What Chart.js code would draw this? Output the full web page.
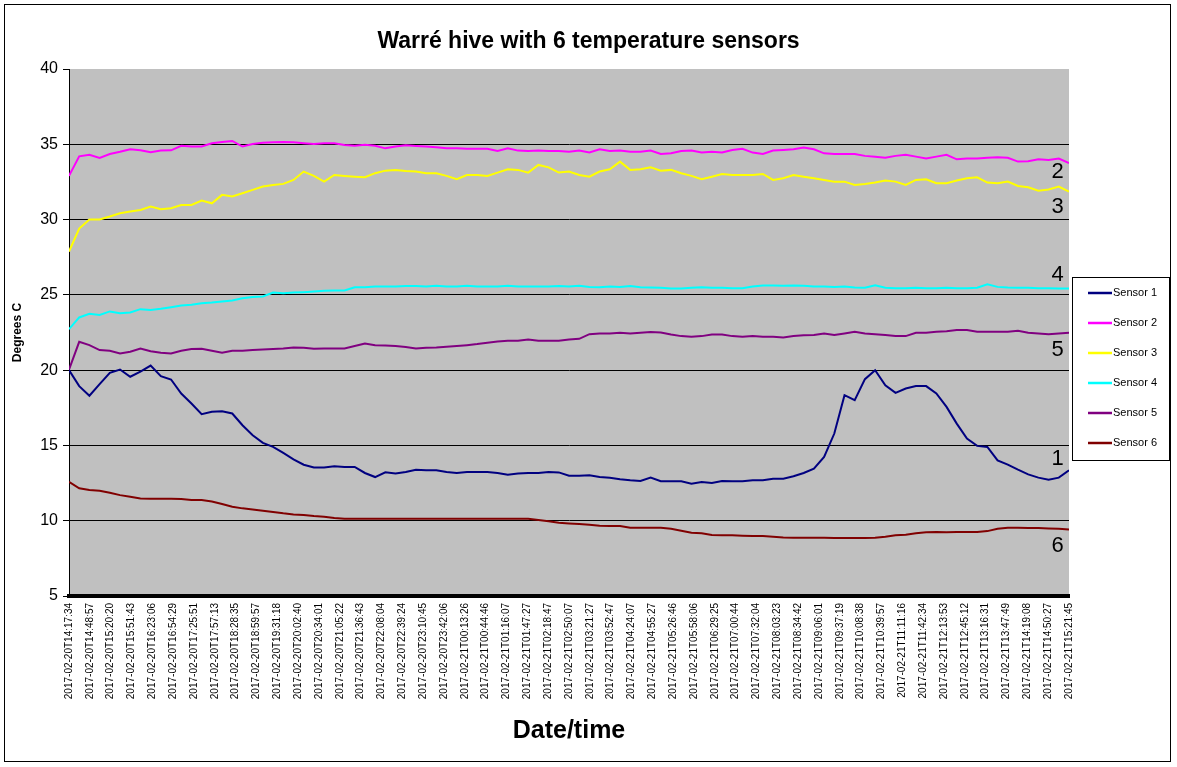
<!DOCTYPE html>
<html>
<head>
<meta charset="utf-8">
<title>Warré hive with 6 temperature sensors</title>
<script src="https://cdn.jsdelivr.net/npm/chart.js@4/dist/chart.umd.min.js"></script>
<style>
  html, body { margin: 0; padding: 0; background: #fff; }
  #chart { display: block; }
</style>
</head>
<body>
<canvas id="chart" width="1177" height="767"></canvas>
<script>
// tick labels on the time axis (every ~31 minutes)
const timeLabels = [
    '2017-02-20T14:17:34', '2017-02-20T14:48:57', '2017-02-20T15:20:20', '2017-02-20T15:51:43',
    '2017-02-20T16:23:06', '2017-02-20T16:54:29', '2017-02-20T17:25:51', '2017-02-20T17:57:13',
    '2017-02-20T18:28:35', '2017-02-20T18:59:57', '2017-02-20T19:31:18', '2017-02-20T20:02:40',
    '2017-02-20T20:34:01', '2017-02-20T21:05:22', '2017-02-20T21:36:43', '2017-02-20T22:08:04',
    '2017-02-20T22:39:24', '2017-02-20T23:10:45', '2017-02-20T23:42:06', '2017-02-21T00:13:26',
    '2017-02-21T00:44:46', '2017-02-21T01:16:07', '2017-02-21T01:47:27', '2017-02-21T02:18:47',
    '2017-02-21T02:50:07', '2017-02-21T03:21:27', '2017-02-21T03:52:47', '2017-02-21T04:24:07',
    '2017-02-21T04:55:27', '2017-02-21T05:26:46', '2017-02-21T05:58:06', '2017-02-21T06:29:25',
    '2017-02-21T07:00:44', '2017-02-21T07:32:04', '2017-02-21T08:03:23', '2017-02-21T08:34:42',
    '2017-02-21T09:06:01', '2017-02-21T09:37:19', '2017-02-21T10:08:38', '2017-02-21T10:39:57',
    '2017-02-21T11:11:16', '2017-02-21T11:42:34', '2017-02-21T12:13:53', '2017-02-21T12:45:12',
    '2017-02-21T13:16:31', '2017-02-21T13:47:49', '2017-02-21T14:19:08', '2017-02-21T14:50:27',
    '2017-02-21T15:21:45'
];

// readings (deg C), evenly spaced over the whole time range
const sensor1 = [
    20.0, 18.94, 18.3, 19.07, 19.82, 20.04, 19.56, 19.9, 20.3, 19.6,
    19.38, 18.45, 17.78, 17.07, 17.23, 17.27, 17.12, 16.34, 15.68, 15.17,
    14.9, 14.5, 14.08, 13.72, 13.53, 13.53, 13.61, 13.57, 13.57, 13.17,
    12.9, 13.21, 13.13, 13.24, 13.39, 13.35, 13.35, 13.24, 13.17, 13.24,
    13.24, 13.24, 13.17, 13.06, 13.13, 13.17, 13.17, 13.24, 13.21, 12.99,
    12.99, 13.02, 12.9, 12.86, 12.75, 12.68, 12.64, 12.86, 12.62, 12.62,
    12.62, 12.46, 12.57, 12.5, 12.64, 12.62, 12.62, 12.68, 12.68, 12.79,
    12.79, 12.95, 13.17, 13.46, 14.24, 15.79, 18.34, 18.0, 19.4, 20.0,
    19.0, 18.49, 18.78, 18.94, 18.94, 18.45, 17.56, 16.45, 15.45, 14.97,
    14.9, 14.01, 13.72, 13.39, 13.08, 12.86, 12.73, 12.86, 13.35
];
const sensor2 = [
    32.9, 34.2, 34.3, 34.1, 34.35, 34.5, 34.67, 34.6, 34.47, 34.58,
    34.6, 34.9, 34.85, 34.85, 35.07, 35.15, 35.22, 34.85, 35.02, 35.1,
    35.13, 35.15, 35.13, 35.07, 35.02, 35.07, 35.07, 34.95, 34.9, 34.97,
    34.9, 34.73, 34.85, 34.93, 34.89, 34.85, 34.8, 34.73, 34.73, 34.7,
    34.71, 34.7, 34.56, 34.73, 34.58, 34.56, 34.58, 34.56, 34.56, 34.5,
    34.58, 34.45, 34.67, 34.56, 34.58, 34.5, 34.5, 34.58, 34.36, 34.4,
    34.56, 34.58, 34.45, 34.51, 34.45, 34.62, 34.7, 34.45, 34.36, 34.58,
    34.62, 34.67, 34.78, 34.67, 34.4, 34.36, 34.36, 34.36, 34.23, 34.18,
    34.1, 34.23, 34.3, 34.18, 34.05, 34.18, 34.3, 34.0, 34.05, 34.05,
    34.1, 34.14, 34.1, 33.85, 33.87, 34.0, 33.96, 34.05, 33.75
];
const sensor3 = [
    27.88, 29.4, 30.0, 30.0, 30.2, 30.42, 30.53, 30.64, 30.86, 30.69,
    30.75, 30.97, 30.97, 31.26, 31.08, 31.64, 31.53, 31.75, 31.97, 32.19,
    32.3, 32.37, 32.63, 33.19, 32.9, 32.52, 32.96, 32.9, 32.85, 32.81,
    33.08, 33.25, 33.3, 33.22, 33.19, 33.08, 33.08, 32.9, 32.68, 32.96,
    32.96, 32.9, 33.12, 33.34, 33.3, 33.12, 33.63, 33.47, 33.12, 33.19,
    32.96, 32.85, 33.19, 33.34, 33.85, 33.3, 33.34, 33.47, 33.25, 33.3,
    33.08, 32.9, 32.68, 32.85, 33.03, 32.96, 32.96, 32.96, 33.03, 32.63,
    32.74, 32.96, 32.85, 32.74, 32.63, 32.52, 32.52, 32.3, 32.37, 32.46,
    32.59, 32.52, 32.3, 32.63, 32.68, 32.41, 32.41, 32.59, 32.74, 32.81,
    32.46, 32.41, 32.52, 32.23, 32.15, 31.92, 32.0, 32.19, 31.86
];
const sensor4 = [
    22.72, 23.5, 23.74, 23.67, 23.9, 23.78, 23.83, 24.05, 24.0, 24.07,
    24.18, 24.29, 24.34, 24.45, 24.49, 24.56, 24.62, 24.78, 24.85, 24.89,
    25.15, 25.11, 25.15, 25.18, 25.22, 25.27, 25.29, 25.29, 25.51, 25.51,
    25.55, 25.55, 25.55, 25.58, 25.58, 25.55, 25.6, 25.55, 25.55, 25.6,
    25.55, 25.55, 25.55, 25.6, 25.55, 25.55, 25.55, 25.55, 25.58, 25.55,
    25.6, 25.53, 25.51, 25.55, 25.53, 25.58, 25.51, 25.49, 25.47, 25.42,
    25.42, 25.47, 25.51, 25.47, 25.47, 25.44, 25.44, 25.55, 25.62, 25.62,
    25.6, 25.62, 25.6, 25.55, 25.55, 25.53, 25.55, 25.49, 25.47, 25.64,
    25.47, 25.44, 25.44, 25.47, 25.44, 25.44, 25.47, 25.44, 25.44, 25.47,
    25.7, 25.53, 25.49, 25.47, 25.47, 25.44, 25.44, 25.42, 25.42
];
const sensor5 = [
    20.04, 21.88, 21.66, 21.33, 21.29, 21.11, 21.22, 21.44, 21.26, 21.15,
    21.11, 21.29, 21.4, 21.42, 21.29, 21.15, 21.29, 21.29, 21.33, 21.37,
    21.4, 21.44, 21.51, 21.49, 21.42, 21.44, 21.44, 21.44, 21.6, 21.77,
    21.66, 21.64, 21.6, 21.53, 21.44, 21.49, 21.51, 21.55, 21.6, 21.66,
    21.73, 21.82, 21.91, 21.95, 21.95, 22.04, 21.95, 21.95, 21.95, 22.04,
    22.08, 22.39, 22.44, 22.44, 22.48, 22.44, 22.48, 22.53, 22.5, 22.37,
    22.26, 22.22, 22.26, 22.37, 22.37, 22.26, 22.22, 22.26, 22.22, 22.22,
    22.17, 22.26, 22.31, 22.33, 22.44, 22.33, 22.44, 22.55, 22.44, 22.39,
    22.33, 22.26, 22.26, 22.48, 22.48, 22.55, 22.59, 22.66, 22.66, 22.55,
    22.55, 22.55, 22.55, 22.62, 22.48, 22.44, 22.39, 22.44, 22.48
];
const sensor6 = [
    12.59, 12.15, 12.04, 11.99, 11.86, 11.7, 11.59, 11.48, 11.46, 11.46,
    11.46, 11.44, 11.37, 11.37, 11.28, 11.11, 10.93, 10.82, 10.75, 10.66,
    10.58, 10.49, 10.42, 10.38, 10.31, 10.27, 10.18, 10.13, 10.13, 10.13,
    10.13, 10.13, 10.13, 10.13, 10.13, 10.13, 10.13, 10.13, 10.13, 10.13,
    10.13, 10.13, 10.13, 10.13, 10.13, 10.13, 10.04, 9.96, 9.87, 9.82,
    9.78, 9.73, 9.67, 9.65, 9.65, 9.54, 9.54, 9.54, 9.54, 9.47,
    9.34, 9.2, 9.16, 9.05, 9.03, 9.03, 9.0, 8.98, 8.98, 8.94,
    8.89, 8.87, 8.87, 8.87, 8.87, 8.85, 8.85, 8.85, 8.85, 8.87,
    8.94, 9.03, 9.07, 9.16, 9.23, 9.25, 9.23, 9.25, 9.25, 9.25,
    9.31, 9.47, 9.54, 9.54, 9.51, 9.51, 9.49, 9.47, 9.42
];

const sensorNames = ['Sensor 1', 'Sensor 2', 'Sensor 3', 'Sensor 4', 'Sensor 5', 'Sensor 6'];
const sensorColors = ['#000080', '#FF00FF', '#FFFF00', '#00FFFF', '#800080', '#800000'];

// number tags written at the right end of each line
const endTags = [
    { text: '2', x: 47.45, y: 33.16 },
    { text: '3', x: 47.45, y: 30.84 },
    { text: '4', x: 47.45, y: 26.32 },
    { text: '5', x: 47.45, y: 21.34 },
    { text: '1', x: 47.45, y: 14.1 },
    { text: '6', x: 47.45, y: 8.33 }
];

const FONT = '"Liberation Sans", Arial, sans-serif';
const span = timeLabels.length - 1;

function toPoints(values) {
    return values.map((v, i) => ({ x: i * span / (values.length - 1), y: v }));
}

const series = [sensor1, sensor2, sensor3, sensor4, sensor5, sensor6];

const framePlugin = {
    id: 'frame',
    beforeDraw(chart) {
        const ctx = chart.ctx;
        const a = chart.chartArea;
        ctx.save();
        ctx.fillStyle = '#ffffff';
        ctx.fillRect(0, 0, chart.width, chart.height);
        ctx.fillStyle = '#C0C0C0';
        ctx.fillRect(a.left, a.top, a.right - a.left, a.bottom - a.top);
        ctx.strokeStyle = '#000';
        ctx.lineWidth = 1;
        ctx.strokeRect(4.5, 4.5, 1166, 757);
        ctx.restore();
    },
    afterDraw(chart) {
        const ctx = chart.ctx;
        const xs = chart.scales.x, ys = chart.scales.y;
        ctx.save();
        // tags 1..6
        ctx.fillStyle = '#000';
        ctx.font = '22px ' + FONT;
        ctx.textAlign = 'center';
        ctx.textBaseline = 'middle';
        endTags.forEach(t => {
            ctx.fillText(t.text, xs.getPixelForValue(t.x), ys.getPixelForValue(t.y));
        });
        // legend box
        ctx.fillStyle = '#fff';
        ctx.fillRect(1072.5, 277.5, 97, 183);
        ctx.strokeStyle = '#000';
        ctx.lineWidth = 1;
        ctx.strokeRect(1072.5, 277.5, 97, 183);
        ctx.font = '11px ' + FONT;
        ctx.textAlign = 'left';
        chart.data.datasets.forEach((ds, i) => {
            const y = 293 + i * 30;
            ctx.strokeStyle = ds.borderColor;
            ctx.lineWidth = 2.5;
            ctx.beginPath();
            ctx.moveTo(1088, y);
            ctx.lineTo(1112, y);
            ctx.stroke();
            ctx.fillStyle = '#000';
            ctx.fillText(ds.label, 1113, y);
        });
        ctx.restore();
    }
};

new Chart(document.getElementById('chart'), {
    type: 'line',
    data: {
        datasets: series.map((s, i) => ({
            label: sensorNames[i],
            data: toPoints(s),
            borderColor: sensorColors[i],
            backgroundColor: sensorColors[i],
            borderWidth: 2,
            pointRadius: 0,
            tension: 0
        }))
    },
    options: {
        responsive: false,
        animation: false,
        devicePixelRatio: 1,
        layout: { padding: 0 },
        plugins: {
            legend: { display: false },
            tooltip: { enabled: false },
            title: {
                display: true,
                text: 'Warré hive with 6 temperature sensors',
                color: '#000',
                font: { family: FONT, size: 23, weight: 'bold' },
                padding: { top: 28, bottom: 13.4 }
            }
        },
        scales: {
            x: {
                type: 'linear',
                min: 0,
                max: span,
                afterFit(scale) { scale.height = 171; },
                afterBuildTicks(scale) {
                    scale.ticks = timeLabels.map((_, i) => ({ value: i }));
                },
                grid: { display: false, drawTicks: false },
                border: { display: true, color: '#000', width: 4 },
                ticks: {
                    autoSkip: false,
                    maxRotation: 90,
                    minRotation: 90,
                    padding: 7,
                    color: '#000',
                    font: { family: FONT, size: 10 },
                    callback: (v) => timeLabels[v]
                },
                title: {
                    display: true,
                    text: 'Date/time',
                    color: '#000',
                    font: { family: FONT, size: 25, weight: 'bold' },
                    padding: { top: 0, bottom: 21 }
                }
            },
            y: {
                min: 5,
                max: 40,
                afterFit(scale) { scale.width = 69; },
                grid: {
                    color: (c) => (c.tick && c.tick.value > 5 && c.tick.value < 40) ? '#000' : 'rgba(0,0,0,0)',
                    tickColor: '#000',
                    tickLength: 6,
                    lineWidth: 1
                },
                border: { display: true, color: '#000', width: 1 },
                ticks: {
                    stepSize: 5,
                    padding: 5,
                    color: '#000',
                    font: { family: FONT, size: 16 }
                },
                title: {
                    display: true,
                    text: 'Degrees C',
                    color: '#000',
                    font: { family: FONT, size: 12, weight: 'bold' },
                    padding: { top: 10, bottom: 0 }
                }
            },
            // empty right-hand strip that holds the legend box
            side: {
                position: 'right',
                afterFit(scale) { scale.width = 108; },
                grid: { display: false, drawTicks: false },
                border: { display: false },
                ticks: { display: false }
            }
        }
    },
    plugins: [framePlugin]
});
</script>
</body>
</html>
